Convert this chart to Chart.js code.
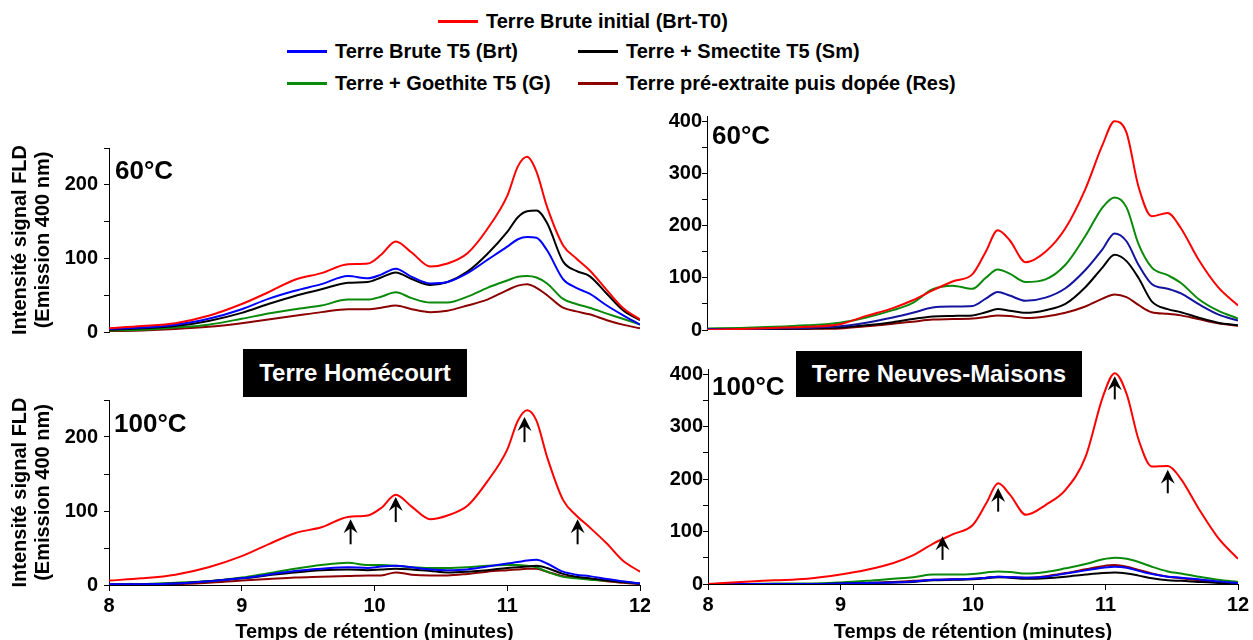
<!DOCTYPE html>
<html><head><meta charset="utf-8">
<script src="https://cdn.jsdelivr.net/npm/chart.js@4.4.0/dist/chart.umd.min.js"></script>
<style>
html,body{margin:0;padding:0;background:#fff;width:1253px;height:640px;overflow:hidden;font-family:"Liberation Sans",Arial,sans-serif;}
.wrap{position:absolute;}
.wrap canvas{display:block;}
.lg{position:absolute;display:flex;align-items:center;font-weight:bold;font-size:20px;white-space:nowrap;height:24px;color:#000;}
.lg .sw{width:40px;height:0;border-top:3px solid;margin-right:8px;}
.box{position:absolute;background:#000;color:#fff;font-weight:bold;font-size:24px;display:flex;align-items:center;justify-content:center;z-index:5;white-space:nowrap;}
</style></head>
<body>
<div id="legend"></div>
<div class="box" style="left:243px;top:349px;width:224px;height:48px;" id="boxL"></div>
<div class="box" style="left:796px;top:351px;width:286px;height:46px;" id="boxR"></div>
<div class="wrap" style="left:0px;top:140px;width:650px;height:200px;"><canvas id="cTL"></canvas></div>
<div class="wrap" style="left:650px;top:100px;width:600px;height:240px;"><canvas id="cTR"></canvas></div>
<div class="wrap" style="left:0px;top:390px;width:650px;height:260px;"><canvas id="cBL"></canvas></div>
<div class="wrap" style="left:650px;top:350px;width:600px;height:300px;"><canvas id="cBR"></canvas></div>
<script>
// ---------- DATA ----------
const seriesNames = ['Terre Brute initial (Brt-T0)', 'Terre Brute T5 (Brt)', 'Terre + Smectite T5 (Sm)', 'Terre + Goethite T5 (G)', 'Terre pré-extraite puis dopée (Res)'];
const panelNames = ['Terre Homécourt', 'Terre Neuves-Maisons'];
const tempLabels = ['60°C', '100°C'];
const yTitle = ['Intensité signal FLD', '(Emission 400 nm)'];
const xTitle = 'Temps de rétention (minutes)';
const xTicks = [8, 9, 10, 11, 12];
const yTicksHom = [0, 50, 100, 150, 200, 250];
const yLabelsHom = [0, 100, 200];
const yTicksNM = [0, 50, 100, 150, 200, 250, 300, 350, 400];
const yLabelsNM = [0, 100, 200, 300, 400];

// retention time grids (minutes)
const timeL = [8, 8.25, 8.5, 8.75, 9, 9.2, 9.4, 9.6, 9.8, 9.95, 10.05, 10.16, 10.28, 10.42, 10.55, 10.7, 10.85, 11, 11.08, 11.15, 11.22, 11.3, 11.42, 11.52, 11.62, 11.75, 11.87, 12];
const timeR = [8, 8.25, 8.5, 8.75, 9, 9.2, 9.4, 9.55, 9.7, 9.85, 10, 10.1, 10.19, 10.28, 10.4, 10.55, 10.7, 10.85, 10.98, 11.07, 11.16, 11.25, 11.35, 11.47, 11.57, 11.7, 11.85, 12];

// Terre Homécourt 60°C
const hom60Brt0 = [5, 8, 12, 22, 38, 54, 71, 80, 92, 93, 105, 123, 108, 89, 93, 107, 140, 185, 225, 238, 218, 170, 118, 100, 84, 57, 33, 17];
const hom60Brt  = [4, 6, 10, 18, 31, 45, 56, 65, 76, 73, 78, 86, 75, 66, 68, 80, 98, 116, 126, 129, 128, 111, 72, 60, 52, 36, 23, 10];
const hom60Sm   = [3, 5, 8, 15, 26, 38, 49, 58, 67, 68, 74, 81, 72, 64, 68, 82, 106, 136, 156, 164, 165, 148, 96, 83, 76, 52, 30, 16];
const hom60G    = [2, 3, 6, 10, 18, 25, 31, 36, 44, 44, 48, 54, 46, 40, 40, 48, 60, 70, 75, 76, 74, 66, 45, 38, 33, 25, 18, 10];
const hom60Res  = [1, 2, 4, 7, 12, 17, 22, 27, 31, 31, 33, 36, 31, 27, 29, 36, 44, 57, 63, 65, 60, 50, 33, 28, 24, 16, 10, 5];
// Terre Homécourt 100°C
const hom100Brt0 = [6, 9, 14, 24, 39, 55, 70, 78, 92, 94, 104, 122, 106, 89, 94, 107, 140, 183, 222, 236, 222, 173, 115, 94, 78, 56, 33, 18];
const hom100Brt  = [1, 1, 2, 5, 9, 14, 19, 22, 24, 23, 25, 26, 24, 21, 20, 21, 25, 29, 31, 33, 34, 29, 18, 14, 12, 8, 5, 2];
const hom100Sm   = [1, 1, 2, 5, 9, 13, 17, 20, 21, 20, 21, 22, 21, 19, 17, 18, 20, 23, 24, 25, 26, 23, 15, 11, 9, 6, 4, 2];
const hom100G    = [0, 1, 3, 5, 10, 16, 22, 27, 30, 27, 27, 26, 24, 23, 23, 24, 26, 27, 27, 26, 24, 18, 11, 9, 7, 6, 4, 2];
const hom100Res  = [0, 0, 1, 3, 6, 8, 10, 11, 12, 13, 13, 17, 14, 13, 13, 15, 18, 20, 21, 22, 22, 18, 12, 10, 8, 5, 3, 1];
// Terre Neuves-Maisons 60°C
const nm60Brt0 = [0, 2, 4, 6, 11, 27, 42, 57, 76, 93, 107, 150, 191, 172, 130, 150, 195, 270, 355, 400, 378, 275, 218, 224, 195, 136, 82, 47];
const nm60Brt  = [2, 2, 3, 4, 7, 14, 24, 33, 43, 45, 46, 60, 73, 66, 56, 62, 80, 115, 155, 185, 170, 125, 88, 79, 70, 50, 30, 18];
const nm60Sm   = [1, 1, 2, 3, 5, 9, 15, 21, 26, 27, 28, 34, 40, 37, 33, 38, 50, 82, 120, 144, 132, 100, 55, 40, 34, 24, 14, 9];
const nm60G    = [3, 4, 6, 9, 14, 24, 38, 52, 78, 85, 79, 100, 116, 108, 92, 97, 125, 180, 235, 254, 235, 165, 120, 105, 90, 60, 37, 22];
const nm60Res  = [0, 0, 1, 2, 3, 7, 12, 16, 20, 21, 22, 25, 28, 27, 23, 26, 33, 45, 60, 68, 63, 48, 34, 31, 28, 21, 13, 8];
// Terre Neuves-Maisons 100°C
const nm100Brt0 = [0, 4, 7, 10, 18, 27, 40, 55, 77, 95, 113, 154, 192, 170, 132, 151, 180, 243, 357, 402, 362, 275, 224, 225, 200, 145, 88, 48];
const nm100Brt  = [0, 0, 0, 0, 1, 2, 3, 5, 8, 9, 10, 12, 14, 13, 12, 14, 20, 26, 31, 33, 31, 25, 19, 14, 12, 9, 5, 2];
const nm100Sm   = [0, 0, 0, 0, 1, 2, 3, 4, 7, 8, 9, 11, 13, 12, 10, 11, 14, 18, 21, 22, 20, 16, 11, 7, 6, 4, 2, 1];
const nm100G    = [0, 0, 1, 1, 3, 6, 10, 13, 18, 18, 19, 22, 24, 23, 20, 23, 30, 38, 47, 50, 48, 42, 33, 24, 20, 14, 8, 4];
const nm100Res  = [0, 0, 0, 0, 1, 2, 4, 6, 8, 9, 10, 12, 14, 13, 12, 15, 21, 28, 34, 36, 33, 27, 20, 14, 11, 7, 4, 2];

// arrows (retention time, tip value, base value)
const arrowsHomTime = [9.82, 10.16, 11.13, 11.53];
const arrowsHomTip  = [89, 119, 227, 89];
const arrowsHomBase = [55, 85, 193, 55];
const arrowsNMTime = [9.77, 10.19, 11.07, 11.47];
const arrowsNMTip  = [91, 183, 396, 218];
const arrowsNMBase = [46, 138, 352, 173];

// ---------- STYLE ----------
const FONT = '"Liberation Sans", Arial, sans-serif';
const COLORS = {Brt0:'#ff0000', Brt:'#0000ff', Sm:'#000000', G:'#0a8a0a', Res:'#8b0000'};

// legend (HTML)
const legendItems = [
  {name: seriesNames[0], color: COLORS.Brt0, left: 438, top: 9},
  {name: seriesNames[1], color: COLORS.Brt, left: 287, top: 39},
  {name: seriesNames[2], color: COLORS.Sm, left: 578, top: 39},
  {name: seriesNames[3], color: COLORS.G, left: 287, top: 71},
  {name: seriesNames[4], color: COLORS.Res, left: 578, top: 71}
];
const lg = document.getElementById('legend');
legendItems.forEach(it => {
  const d = document.createElement('div');
  d.className = 'lg'; d.style.left = it.left + 'px'; d.style.top = it.top + 'px';
  const s = document.createElement('span'); s.className = 'sw'; s.style.borderTopColor = it.color;
  const t = document.createElement('span'); t.textContent = it.name;
  d.appendChild(s); d.appendChild(t); lg.appendChild(d);
});
document.getElementById('boxL').textContent = panelNames[0];
document.getElementById('boxR').textContent = panelNames[1];

// ---------- PLUGINS ----------
const panelLabelPlugin = {
  id: 'panelLabel',
  afterDraw(chart, args, opts) {
    if (!opts || !opts.text) return;
    const {ctx, chartArea} = chart;
    ctx.save();
    ctx.font = 'bold 26px ' + FONT;
    ctx.fillStyle = '#000';
    ctx.textBaseline = 'middle';
    ctx.textAlign = 'left';
    ctx.fillText(opts.text, chartArea.left + opts.dx, chartArea.top + opts.dy);
    ctx.restore();
  }
};
const arrowPlugin = {
  id: 'arrows',
  afterDatasetsDraw(chart, args, opts) {
    if (!opts || !opts.time) return;
    const {ctx, scales: {x, y}} = chart;
    ctx.save();
    ctx.strokeStyle = '#000'; ctx.fillStyle = '#000'; ctx.lineWidth = 2;
    opts.time.forEach((t, i) => {
      const px = x.getPixelForValue(t);
      const pt = y.getPixelForValue(opts.tip[i]);
      const pb = y.getPixelForValue(opts.base[i]);
      ctx.beginPath(); ctx.moveTo(px, pb); ctx.lineTo(px, pt + 6); ctx.stroke();
      ctx.beginPath();
      ctx.moveTo(px, pt);
      ctx.lineTo(px - 7, pt + 14);
      ctx.lineTo(px, pt + 9);
      ctx.lineTo(px + 7, pt + 14);
      ctx.closePath(); ctx.fill();
    });
    ctx.restore();
  }
};
Chart.register(panelLabelPlugin, arrowPlugin);

function ds(label, xs, ys, color) {
  return {
    label, data: xs.map((x, i) => ({x, y: ys[i]})),
    borderColor: color, backgroundColor: color, borderWidth: 2,
    pointRadius: 0, cubicInterpolationMode: 'monotone', fill: false
  };
}

function makeChart(id, cfg) {
  const xScale = {
    type: 'linear', min: 8, max: 12, display: cfg.showX,
    afterBuildTicks: s => { s.ticks = xTicks.map(v => ({value: v})); },
    ticks: {color: '#000', font: {family: FONT, size: 20, weight: 'bold'}, padding: 3, maxRotation: 0, autoSkip: false},
    grid: {drawOnChartArea: false, drawTicks: true, tickLength: 6, color: '#000', lineWidth: 1},
    border: {display: true, color: '#000', width: 1},
    title: {display: cfg.showX, text: xTitle, color: '#000', font: {family: FONT, size: 20, weight: 'bold'}, padding: {top: 0, bottom: 6}},
    afterFit: s => { s.height = cfg.xh || 0; s.paddingLeft = 0; s.paddingRight = 0; }
  };
  const yScale = {
    type: 'linear', min: 0, max: cfg.yMax,
    afterBuildTicks: s => { s.ticks = cfg.yTicks.map(v => ({value: v})); },
    ticks: {color: '#000', font: {family: FONT, size: 20, weight: 'bold'}, padding: cfg.tickPad, autoSkip: false,
      callback: v => cfg.yLabels.includes(v) ? String(v) : ''},
    grid: {drawOnChartArea: false, drawTicks: true, tickLength: 5, color: '#000', lineWidth: 1},
    border: {display: true, color: '#000', width: 1},
    title: {display: cfg.showYTitle, text: yTitle, color: '#000', font: {family: FONT, size: 20, weight: 'bold', lineHeight: 1.15}, padding: {top: 9, bottom: 0}},
    afterFit: s => { s.width = cfg.yw; s.paddingTop = 0; s.paddingBottom = 0; }
  };
  return new Chart(document.getElementById(id), {
    type: 'line',
    data: {datasets: cfg.datasets},
    options: {
      responsive: true, maintainAspectRatio: false, animation: false,
      layout: {padding: cfg.pad},
      scales: {x: xScale, y: yScale},
      plugins: {
        legend: {display: false}, tooltip: {enabled: false},
        panelLabel: {text: cfg.label, dx: cfg.ldx, dy: cfg.ldy},
        arrows: cfg.arrows || {}
      }
    }
  });
}

makeChart('cTL', {
  datasets: [ds(seriesNames[0], timeL, hom60Brt0, COLORS.Brt0), ds(seriesNames[1], timeL, hom60Brt, COLORS.Brt),
    ds(seriesNames[2], timeL, hom60Sm, COLORS.Sm), ds(seriesNames[3], timeL, hom60G, COLORS.G), ds(seriesNames[4], timeL, hom60Res, COLORS.Res)],
  yMax: 250, yTicks: yTicksHom, yLabels: yLabelsHom, yw: 109, tickPad: 6, showYTitle: true, showX: false,
  pad: {left: 0, top: 8, right: 10, bottom: 8}, label: tempLabels[0], ldx: 6, ldy: 24
});
makeChart('cTR', {
  datasets: [ds(seriesNames[0], timeR, nm60Brt0, COLORS.Brt0), ds(seriesNames[1], timeR, nm60Brt, '#1414a0'),
    ds(seriesNames[2], timeR, nm60Sm, COLORS.Sm), ds(seriesNames[3], timeR, nm60G, COLORS.G), ds(seriesNames[4], timeR, nm60Res, COLORS.Res)],
  yMax: 410, yTicks: yTicksNM, yLabels: yLabelsNM, yw: 57, tickPad: 0, showYTitle: false, showX: false,
  pad: {left: 0, top: 16, right: 12, bottom: 10}, label: tempLabels[0], ldx: 5, ldy: 21
});
makeChart('cBL', {
  datasets: [ds(seriesNames[0], timeL, hom100Brt0, COLORS.Brt0), ds(seriesNames[1], timeL, hom100Brt, COLORS.Brt),
    ds(seriesNames[2], timeL, hom100Sm, COLORS.Sm), ds(seriesNames[3], timeL, hom100G, COLORS.G), ds(seriesNames[4], timeL, hom100Res, COLORS.Res)],
  yMax: 250, yTicks: yTicksHom, yLabels: yLabelsHom, yw: 109, tickPad: 6, showYTitle: true, showX: true, xh: 65,
  pad: {left: 0, top: 10, right: 10, bottom: 0}, label: tempLabels[1], ldx: 5, ldy: 25,
  arrows: {time: arrowsHomTime, tip: arrowsHomTip, base: arrowsHomBase}
});
makeChart('cBR', {
  datasets: [ds(seriesNames[0], timeR, nm100Brt0, COLORS.Brt0), ds(seriesNames[1], timeR, nm100Brt, COLORS.Brt),
    ds(seriesNames[2], timeR, nm100Sm, COLORS.Sm), ds(seriesNames[3], timeR, nm100G, COLORS.G), ds(seriesNames[4], timeR, nm100Res, COLORS.Res)],
  yMax: 410, yTicks: yTicksNM, yLabels: yLabelsNM, yw: 58, tickPad: 0, showYTitle: false, showX: true, xh: 66,
  pad: {left: 0, top: 19, right: 12, bottom: 0}, label: tempLabels[1], ldx: 4, ldy: 19,
  arrows: {time: arrowsNMTime, tip: arrowsNMTip, base: arrowsNMBase}
});
</script>
</body></html>
